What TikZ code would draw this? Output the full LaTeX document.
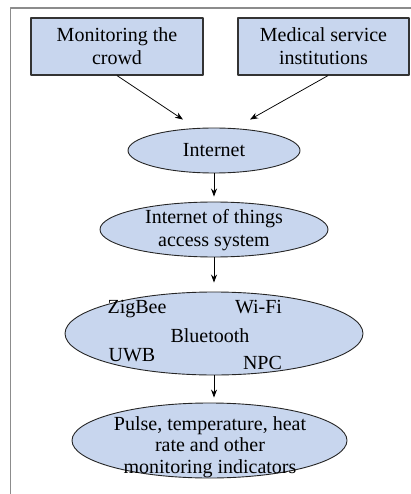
\documentclass[tikz,border=0pt]{standalone}
\usepackage{fontspec}
\setmainfont{Liberation Serif}
\usetikzlibrary{arrows.meta,shapes.geometric}
\definecolor{boxblue}{HTML}{C8D6EE}
\definecolor{framegray}{HTML}{8C8C8C}
\tikzset{
  every picture/.style={line join=round, >=Stealth},
  block/.style={draw=black!80, fill=boxblue, line width=1.2pt, inner sep=0pt, align=center, minimum height=57pt},
  oval/.style={ellipse, draw=black!85, fill=boxblue, line width=0.9pt, inner sep=0pt},
  txt/.style={align=center, inner sep=0pt},
  link/.style={-{Stealth[length=8pt,width=6pt]}, line width=0.75pt},
}

\begin{document}
\begin{tikzpicture}[x=1pt,y=-1pt,font=\fontsize{20}{23}\selectfont]
\useasboundingbox(0,0)rectangle(411,494);
\draw[framegray,line width=1.8pt](10.5,494)--(10.5,8)--(411,8);
% sources
\node[block,minimum width=172pt](mon)at(117,46.5){Monitoring the\\crowd};
\node[block,minimum width=171pt](med)at(323.5,46.5){Medical service\\institutions};
% chain of ovals
\node[oval,minimum width=172pt,minimum height=45pt](inet)at(214,150.5){Internet};
\node[oval,minimum width=228pt,minimum height=55pt](iot)at(214,229.5){};
\node[txt](iottxt)at(214,230.3){Internet of things\\access system};
\node[oval,minimum width=298pt,minimum height=83pt](tech)at(214,333.5){};
\node[anchor=base,inner sep=0pt](zig)at(137,313){ZigBee};
\node[anchor=base,inner sep=0pt](wifi)at(258.5,313){Wi-Fi};
\node[anchor=base,inner sep=0pt](blue)at(210,342){Bluetooth};
\node[anchor=base,inner sep=0pt](uwb)at(132,361){UWB};
\node[anchor=base,inner sep=0pt](npc)at(262.5,369){NPC};
\node[oval,minimum width=275pt,minimum height=75pt](pulse)at(209.5,440.5){};
\node[txt,font=\fontsize{20}{21.5}\selectfont](pulsetxt)at(210,446.8){Pulse, temperature, heat\\rate and other\\monitoring indicators};
% arrows
\draw[link](mon.south)--([xshift=-31pt,yshift=8pt]inet.north);
\draw[link]([xshift=4.5pt]med.south)--([xshift=36pt,yshift=8pt]inet.north);
\draw[link](inet.south)--([yshift=5pt]iot.north);
\draw[link](iot.south)--([yshift=9pt]tech.north);
\draw[link](tech.south)--([yshift=5pt]tech.south|-pulse.north);
\end{tikzpicture}
\end{document}
